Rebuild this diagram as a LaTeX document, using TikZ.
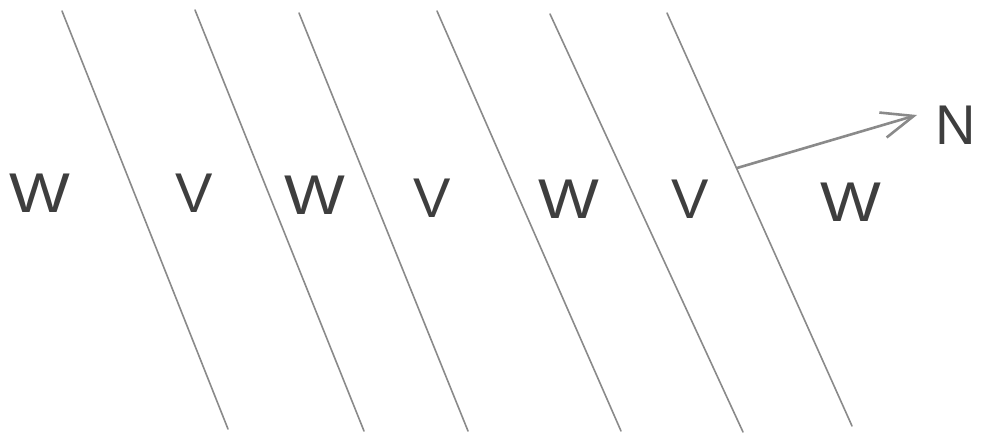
\documentclass[tikz,border=0pt]{standalone}
\usepackage{fontspec}
\setmainfont{Liberation Sans}
\usetikzlibrary{arrows.meta}
\definecolor{pencil}{HTML}{8A8A8A}
\definecolor{ink}{HTML}{3E3E3E}
\newcommand{\wideW}{\scalebox{1.15}[1]{W}}
\tikzset{
  boundary/.style={draw=pencil, line width=1.6pt, line cap=round},
  letter/.style={text=ink, font=\fontsize{56}{60}\selectfont, inner sep=0pt, anchor=center},
  normal/.style={draw=pencil, line width=2.6pt, line cap=round,
    -{Straight Barb[length=32pt, width=26pt, line width=2.6pt]}}
}
\begin{document}
\begin{tikzpicture}[x=1pt,y=-1pt]
\useasboundingbox (0,0) rectangle (981,434);
% line end points
\coordinate (t1) at (62,11);  \coordinate (b1) at (228,429);
\coordinate (t2) at (195,10); \coordinate (b2) at (364,431);
\coordinate (t3) at (299,13); \coordinate (b3) at (468,431);
\coordinate (t4) at (437,11); \coordinate (b4) at (621,431);
\coordinate (t5) at (550,14); \coordinate (b5) at (743,432);
\coordinate (t6) at (667,13); \coordinate (b6) at (852,426);
\draw[boundary] (t1) -- (b1);
\draw[boundary] (t2) -- (b2);
\draw[boundary] (t3) -- (b3);
\draw[boundary] (t4) -- (b4);
\draw[boundary] (t5) -- (b5);
\draw[boundary] (t6) -- (b6);
% region labels
\node[letter] (w1) at (40,193) {\wideW};
\node[letter] (v1) at (194,193) {V};
\node[letter] (w2) at (315,195) {\wideW};
\node[letter] (v2) at (432,198) {V};
\node[letter] (w3) at (569,199) {\wideW};
\node[letter] (v3) at (690,199) {V};
\node[letter] (w4) at (851,202) {\wideW};
% normal arrow
\coordinate (o) at (737,168);
\coordinate (tip) at (917,115);
\draw[normal] (o) -- (tip);
\node[letter] (n) at (956,125) {N};
\end{tikzpicture}
\end{document}
